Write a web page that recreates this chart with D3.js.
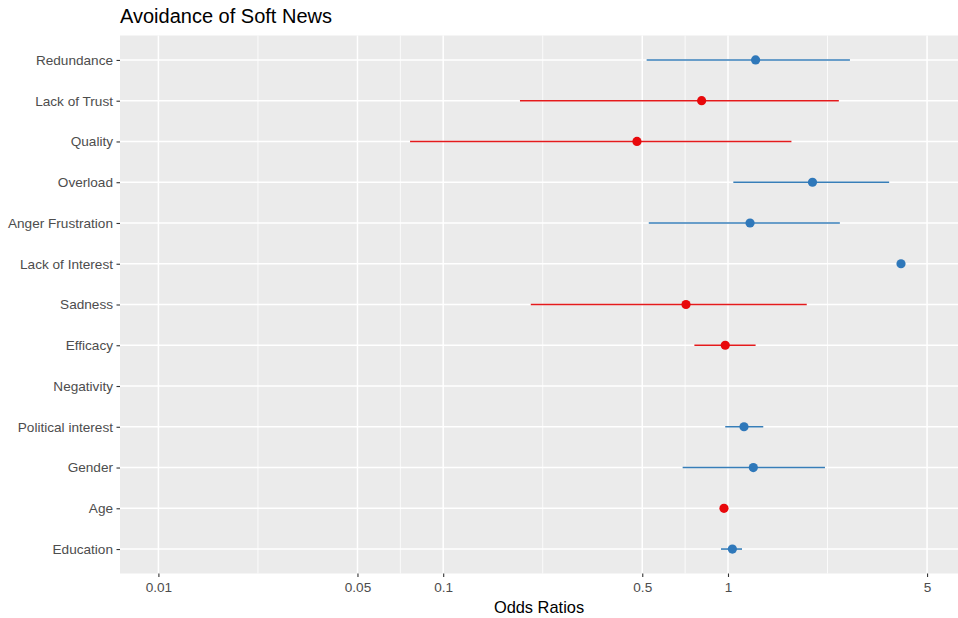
<!DOCTYPE html>
<html>
<head>
<meta charset="utf-8">
<script src="https://cdn.jsdelivr.net/npm/d3@7"></script>
<style>
  html, body { margin: 0; padding: 0; background: #fff; }
  svg { display: block; font-family: "Liberation Sans", Arial, sans-serif; }
</style>
</head>
<body>
<svg id="chart" width="958" height="618"></svg>
<script>
// Odds ratios with 95% confidence intervals, top row first
const terms = ["Redundance", "Lack of Trust", "Quality", "Overload", "Anger Frustration",
  "Lack of Interest", "Sadness", "Efficacy", "Negativity", "Political interest",
  "Gender", "Age", "Education"];
const estimates = [1.25, 0.808, 0.479, 1.98, 1.195, 4.05, 0.712, 0.978, null, 1.138, 1.227, 0.968, 1.036];
const ciLow     = [0.518, 0.186, 0.0765, 1.044, 0.527, null, 0.203, 0.762, null, 0.978, 0.693, null, 0.945];
const ciHigh    = [2.68, 2.45, 1.67, 3.68, 2.47, null, 1.89, 1.25, null, 1.33, 2.19, null, 1.12];
const tickValues = [0.01, 0.05, 0.1, 0.5, 1, 5];
const tickLabels = ["0.01", "0.05", "0.1", "0.5", "1", "5"];

const svg = d3.select("#chart");
const W = 958, H = 618;
const panel = { x0: 120, x1: W, y0: 35.5, y1: 573.5 };

// log scale: one decade spans ~284.8 px, with 1 at x = 728
const pxPerDecade = 284.8;
const xAt1 = 728;
const x = d3.scaleLog()
  .domain([Math.pow(10, (panel.x0 - xAt1) / pxPerDecade), Math.pow(10, (panel.x1 - xAt1) / pxPerDecade)])
  .range([panel.x0, panel.x1]);

// discrete rows with 0.6 unit padding on both ends (ggplot style)
const n = terms.length;
const rowStep = (panel.y1 - panel.y0) / (n - 1 + 1.2);
const y = d3.scalePoint().domain(terms).range([panel.y0 + 0.6 * rowStep, panel.y1 - 0.6 * rowStep]);

// panel background
svg.append("rect")
  .attr("x", panel.x0).attr("y", panel.y0)
  .attr("width", panel.x1 - panel.x0).attr("height", panel.y1 - panel.y0)
  .attr("fill", "#ebebeb");

// minor gridlines halfway between major breaks in log space
const minor = d3.pairs(tickValues).map(([a, b]) => Math.sqrt(a * b));
const grid = svg.append("g");
grid.selectAll(".minor").data(minor).join("line")
  .attr("x1", d => x(d)).attr("x2", d => x(d))
  .attr("y1", panel.y0).attr("y2", panel.y1)
  .attr("stroke", "#fff").attr("stroke-width", 0.8);
grid.selectAll(".major").data(tickValues).join("line")
  .attr("x1", d => x(d)).attr("x2", d => x(d))
  .attr("y1", panel.y0).attr("y2", panel.y1)
  .attr("stroke", "#fff").attr("stroke-width", 1.5);
grid.selectAll(".hrow").data(terms).join("line")
  .attr("x1", panel.x0).attr("x2", panel.x1)
  .attr("y1", d => y(d)).attr("y2", d => y(d))
  .attr("stroke", "#fff").attr("stroke-width", 1.5);

const labelFont = 13.6;

// x axis
const xAxis = d3.axisBottom(x).tickValues(tickValues)
  .tickFormat((d, i) => tickLabels[i]).tickSize(3.5).tickPadding(5);
const gx = svg.append("g").attr("transform", `translate(0,${panel.y1})`).call(xAxis);
gx.select(".domain").remove();
gx.selectAll(".tick line").attr("stroke", "#333").attr("stroke-width", 1.1);
gx.selectAll(".tick text").attr("fill", "#4d4d4d").attr("font-size", labelFont)
  .attr("font-family", "Liberation Sans, Arial, sans-serif");

// y axis
const yAxis = d3.axisLeft(y).tickSize(3.5).tickPadding(3.5);
const gy = svg.append("g").attr("transform", `translate(${panel.x0},0)`).call(yAxis);
gy.select(".domain").remove();
gy.selectAll(".tick line").attr("stroke", "#333").attr("stroke-width", 1.1);
gy.selectAll(".tick text").attr("fill", "#4d4d4d").attr("font-size", labelFont)
  .attr("font-family", "Liberation Sans, Arial, sans-serif");

// estimates: red below 1, blue above
const rows = terms.map((t, i) => ({ term: t, est: estimates[i], lo: ciLow[i], hi: ciHigh[i] }))
  .filter(d => d.est != null);
const colorOf = d => d.est < 1 ? "#e41a1c" : "#377eb8";

svg.append("g").selectAll("line").data(rows.filter(d => d.lo != null && d.hi != null)).join("line")
  .attr("x1", d => x(d.lo)).attr("x2", d => x(d.hi))
  .attr("y1", d => y(d.term)).attr("y2", d => y(d.term))
  .attr("stroke", colorOf).attr("stroke-width", 1.6);

svg.append("g").selectAll("circle").data(rows).join("circle")
  .attr("cx", d => x(d.est)).attr("cy", d => y(d.term))
  .attr("r", 4.6).attr("fill", d => d.est < 1 ? "#e8080b" : "#2f78ba");

// titles
svg.append("text").attr("x", panel.x0).attr("y", 23)
  .attr("font-size", 20).attr("fill", "#000").text("Avoidance of Soft News");
svg.append("text").attr("x", (panel.x0 + panel.x1) / 2).attr("y", 613)
  .attr("text-anchor", "middle").attr("font-size", 16.4).attr("fill", "#000").text("Odds Ratios");
</script>
</body>
</html>
